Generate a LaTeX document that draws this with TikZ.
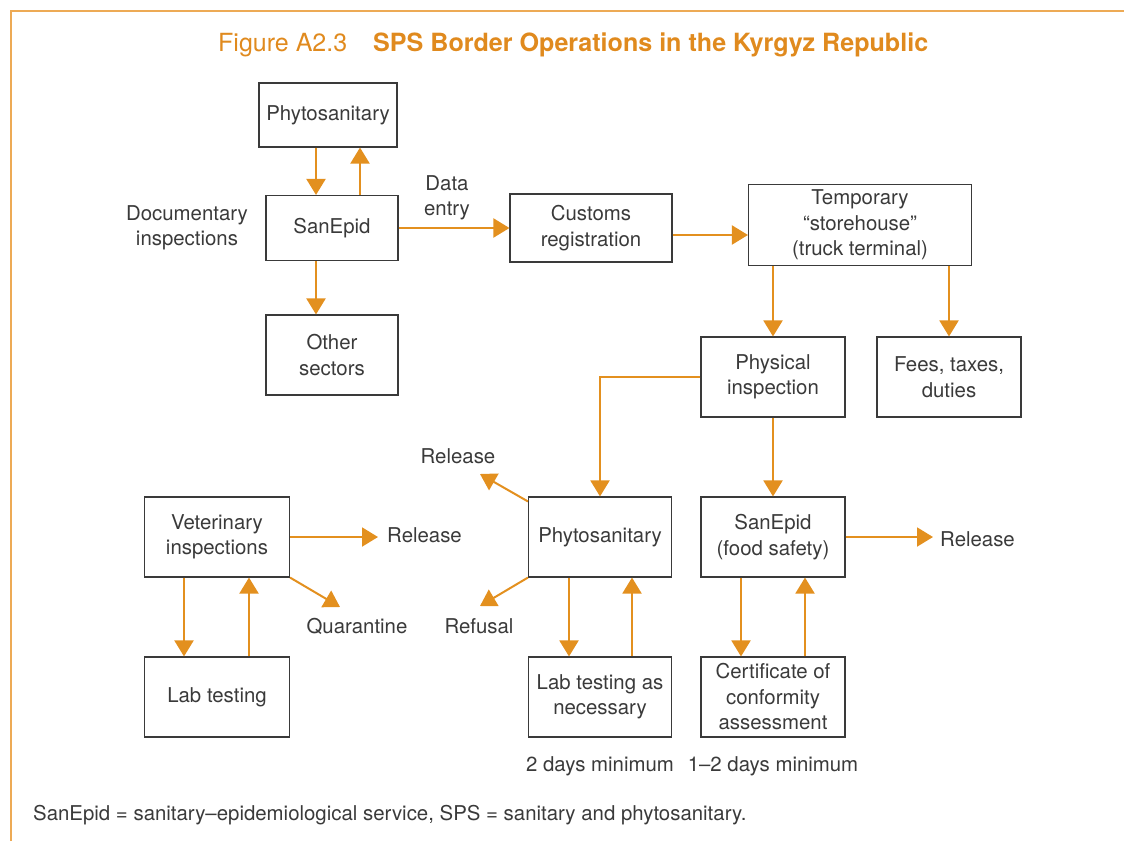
\documentclass[tikz,border=0pt]{standalone}
\usepackage{fontspec}
\setmainfont{TeX Gyre Heros}
\usetikzlibrary{arrows.meta}

\definecolor{titleor}{HTML}{E08A1E}
\definecolor{flowor}{HTML}{E3901F}
\definecolor{frameor}{HTML}{EDAA55}
\definecolor{inkgray}{HTML}{3A3A3A}

\tikzset{
  box/.style={draw=inkgray, line width=1.1pt, inner sep=0pt,
    minimum width=144pt, minimum height=80pt, align=center,
    text=inkgray, font=\fontsize{20.4}{25.5}\selectfont},
  lbl/.style={inner sep=0pt, align=center, text=inkgray,
    font=\fontsize{20.4}{25.5}\selectfont},
  flow/.style={draw=flowor, line width=2pt,
    -{Triangle[length=16pt,width=19pt]}}
}

\begin{document}
\begin{tikzpicture}[x=1pt,y=-1pt]
    \useasboundingbox (0,0) rectangle (1124,841);

    % Frame and title
    \draw[frameor, line width=1.6pt] (11,841) -- (11,11) -- (1124,11);
    \node (figno) [anchor=base west, inner sep=0pt, text=titleor,
      font=\fontsize{25}{30}\selectfont] at (218,51) {Figure A2.3};
    \node (title) [anchor=base west, inner sep=0pt, text=titleor,
      font=\fontsize{25.1}{30}\bfseries] at (373,51)
      {SPS Border Operations in the Kyrgyz Republic};

    % Documentary inspections
    \node (phytoTop) [box, minimum width=138pt, minimum height=64pt] at (328,115) {Phytosanitary};
    \node (sanepid) [box, minimum width=132pt, minimum height=65pt] at (332,228) {SanEpid};
    \node (other) [box, minimum width=132pt] at (332,355) {Other\\sectors};
    \node (docs) [lbl] at (187,228) {Documentary\\inspections};
    \node (dataEntry) [lbl] at (447,198) {Data\\entry};

    % Customs and terminal
    \node (customs) [box, minimum width=162pt, minimum height=68pt] at (591,228) {Customs\\registration};
    \node (temp) [box, minimum width=223pt, minimum height=81pt] at (860,225)
      {Temporary\\``storehouse''\\(truck terminal)};
    \node (physical) [box] at (773,377) {Physical\\inspection};
    \node (fees) [box] at (949,377) {Fees, taxes,\\duties};

    % Lower row
    \node (vet) [box, minimum width=145pt] at (217,537) {Veterinary\\inspections};
    \node (phyto) [box, minimum width=143pt] at (600,537) {Phytosanitary};
    \node (sanfood) [box] at (773,537) {SanEpid\\(food safety)};
    \node (lab) [box, minimum width=145pt] at (217,697) {Lab testing};
    \node (labNec) [box, minimum width=143pt] at (600,697) {Lab testing as\\necessary};
    \node (cert) [box] at (773,697) {Certificate of\\conformity\\assessment};

    % Outcome labels
    \node (relVet) [lbl, anchor=west] at (387,535) {Release};
    \node (quar) [lbl] at (357,626) {Quarantine};
    \node (relPhyto) [lbl] at (458,456) {Release};
    \node (refusal) [lbl] at (479,626) {Refusal};
    \node (relFood) [lbl, anchor=west] at (940,539) {Release};
    \node (twoDays) [lbl] at (600,766) {2 days minimum};
    \node (oneTwoDays) [lbl] at (773,766) {1--2 days minimum};

    % Free arrow ends
    \coordinate (tipVetRel) at (378,537);
    \coordinate (tipQuar) at (340,607);
    \coordinate (tipPhytoRel) at (480,474);
    \coordinate (tipRefusal) at (480,606);
    \coordinate (tipFoodRel) at (933,537);

    % Arrows, top part
    \draw[flow] ([xshift=-16pt]sanepid.north |- phytoTop.south) -- ([xshift=-16pt]sanepid.north);
    \draw[flow] ([xshift=28pt]sanepid.north) -- ([xshift=28pt]sanepid.north |- phytoTop.south);
    \draw[flow] ([xshift=-16pt]sanepid.south) -- ([xshift=-16pt]sanepid.south |- other.north);
    \draw[flow] (sanepid.east) -- (customs.west);
    \draw[flow] ([yshift=-7pt]customs.east) -- ([yshift=-7pt]customs.east -| temp.west);
    \draw[flow] (physical.north |- temp.south) -- (physical.north);
    \draw[flow] (fees.north |- temp.south) -- (fees.north);
    \draw[flow] (physical.west) -| (phyto.north);
    \draw[flow] (physical.south) -- (sanfood.north);

    % Arrows, lower part
    \draw[flow] (vet.east) -- (tipVetRel);
    \draw[flow] (vet.south east) -- (tipQuar);
    \draw[flow] ([xshift=-33pt]vet.south) -- ([xshift=-33pt]vet.south |- lab.north);
    \draw[flow] ([xshift=32pt]lab.north) -- ([xshift=32pt]lab.north |- vet.south);
    \draw[flow] ([yshift=-5pt]phyto.north west) -- (tipPhytoRel);
    \draw[flow] (phyto.south west) -- (tipRefusal);
    \draw[flow] ([xshift=-31pt]phyto.south) -- ([xshift=-31pt]phyto.south |- labNec.north);
    \draw[flow] ([xshift=32pt]labNec.north) -- ([xshift=32pt]labNec.north |- phyto.south);
    \draw[flow] (sanfood.east) -- (tipFoodRel);
    \draw[flow] ([xshift=-32pt]sanfood.south) -- ([xshift=-32pt]sanfood.south |- cert.north);
    \draw[flow] ([xshift=32pt]cert.north) -- ([xshift=32pt]cert.north |- sanfood.south);

    % Note
    \node (note) [lbl, anchor=west] at (33,815)
      {SanEpid = sanitary--epidemiological service, SPS = sanitary and phytosanitary.};
\end{tikzpicture}
\end{document}
